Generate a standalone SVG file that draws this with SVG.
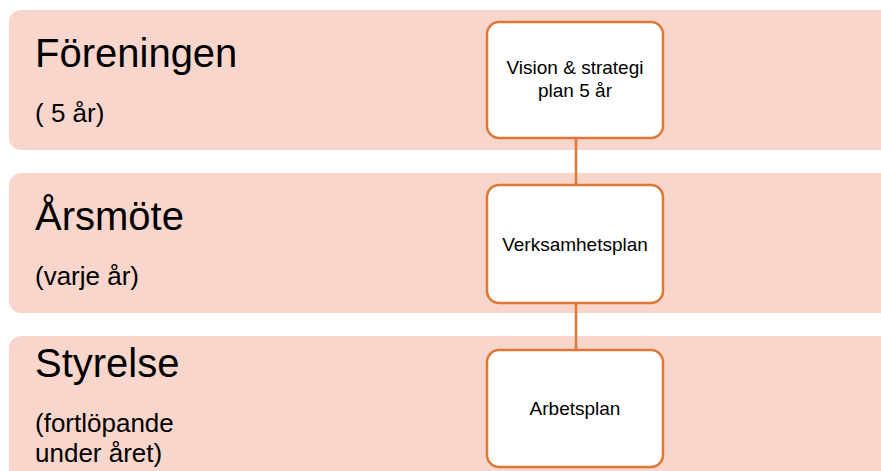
<svg xmlns="http://www.w3.org/2000/svg" width="881" height="471" viewBox="0 0 881 471">
<style>
.band{fill:#F8D6CC;}
.box{fill:#FFFFFF;stroke:#DE7832;stroke-width:2.5;}
.con{stroke:#DE7832;stroke-width:2.5;fill:none;}
text{font-family:"Liberation Sans",Arial,sans-serif;fill:#000;}
.t{font-size:40px;}
.s{font-size:26px;}
.n{font-size:19px;text-anchor:middle;}
</style>
<rect width="881" height="471" fill="#FFFFFF"/>
<g id="band-foreningen">
<rect class="band" x="9" y="10" width="900" height="140" rx="12"/>
<text class="t" x="35" y="67">Föreningen</text>
<text class="s" x="35" y="122">( 5 år)</text>
</g>
<g id="band-arsmote">
<rect class="band" x="9" y="173" width="900" height="140" rx="12"/>
<text class="t" x="35" y="230">Årsmöte</text>
<text class="s" x="35" y="285">(varje år)</text>
</g>
<g id="band-styrelse">
<rect class="band" x="9" y="336" width="900" height="160" rx="12"/>
<text class="t" x="35" y="377">Styrelse</text>
<text class="s" x="35" y="432">(fortlöpande</text>
<text class="s" x="35" y="462">under året)</text>
</g>
<g id="connectors">
<line class="con" x1="576" y1="138" x2="576" y2="185"/>
<line class="con" x1="576" y1="303" x2="576" y2="350"/>
</g>
<g id="node-vision">
<rect class="box" x="487" y="22" width="176" height="116" rx="12"/>
<text class="n" x="575" y="74">Vision &amp; strategi</text>
<text class="n" x="575" y="97">plan 5 år</text>
</g>
<g id="node-verksamhetsplan">
<rect class="box" x="487" y="185" width="176" height="118" rx="12"/>
<text class="n" x="575" y="251">Verksamhetsplan</text>
</g>
<g id="node-arbetsplan">
<rect class="box" x="487" y="350" width="176" height="117" rx="12"/>
<text class="n" x="575" y="415">Arbetsplan</text>
</g>
</svg>
